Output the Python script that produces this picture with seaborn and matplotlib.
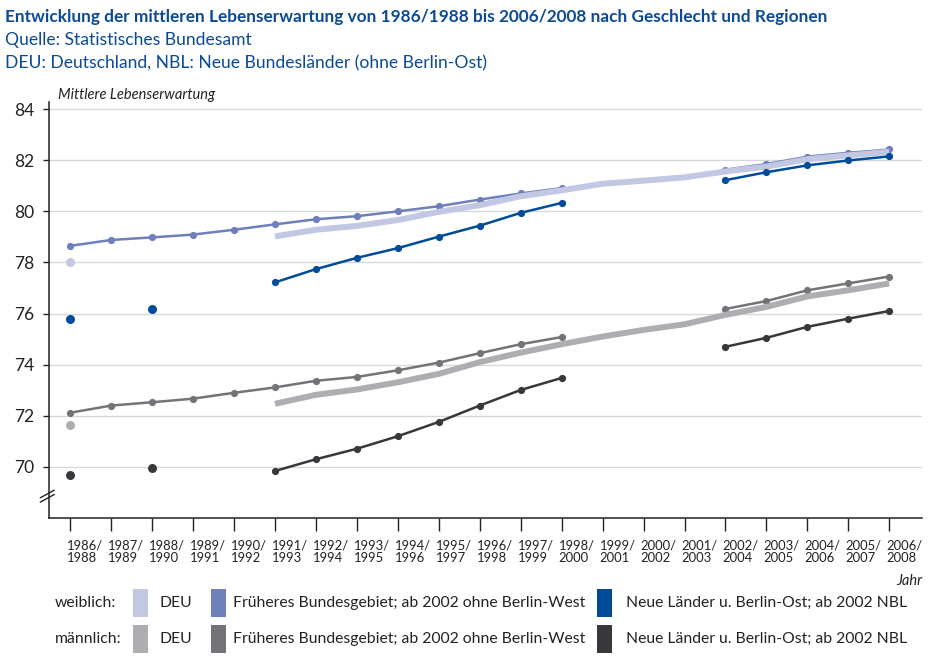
import numpy as np
import pandas as pd
import matplotlib
matplotlib.use("Agg")
import matplotlib.pyplot as plt
import matplotlib.transforms as mtransforms
from matplotlib.patches import Rectangle
import seaborn as sns

# Data
periods = ["1986/\n1988", "1987/\n1989", "1988/\n1990", "1989/\n1991", "1990/\n1992",
           "1991/\n1993", "1992/\n1994", "1993/\n1995", "1994/\n1996", "1995/\n1997",
           "1996/\n1998", "1997/\n1999", "1998/\n2000", "1999/\n2001", "2000/\n2002",
           "2001/\n2003", "2002/\n2004", "2003/\n2005", "2004/\n2006", "2005/\n2007",
           "2006/\n2008"]

N = None
deu_w = [78.0, N, N, N, N, 79.02, 79.28, 79.43, 79.66, 79.98, 80.24, 80.59, 80.82,
         81.08, 81.2, 81.33, 81.56, 81.75, 82.04, 82.19, 82.33]
fbg_w = [78.65, 78.88, 78.98, 79.09, 79.28, 79.49, 79.69, 79.81, 80.0, 80.2, 80.46, 80.7, 80.91,
         N, N, N, 81.63, 81.85, 82.14, 82.29, 82.42]
nbl_w = [75.77, N, 76.18, N, N, 77.22, 77.74, 78.18, 78.56, 79.01, 79.44, 79.94, 80.33,
         N, N, N, 81.22, 81.53, 81.8, 81.99, 82.15]
deu_m = [71.62, N, N, N, N, 72.47, 72.82, 73.03, 73.31, 73.64, 74.1, 74.47, 74.8,
         75.1, 75.36, 75.58, 75.95, 76.26, 76.67, 76.91, 77.18]
fbg_m = [72.12, 72.4, 72.53, 72.67, 72.9, 73.11, 73.37, 73.52, 73.78, 74.08, 74.45, 74.8, 75.08,
         N, N, N, 76.18, 76.49, 76.91, 77.18, 77.45]
nbl_m = [69.7, N, 69.97, N, N, 69.84, 70.3, 70.71, 71.2, 71.76, 72.4, 73.01, 73.48,
         N, N, N, 74.7, 75.05, 75.48, 75.8, 76.1]

c_deu_w, c_fbg_w, c_nbl_w = "#c2c7e4", "#6e7fbb", "#004c99"
c_deu_m, c_fbg_m, c_nbl_m = "#aeadb1", "#747378", "#38383c"
blue = "#0b4a94"
ink = "#222222"

sns.set_theme(style="white")
plt.rcParams["font.family"] = ["Lato", "DejaVu Sans"]

fig = plt.figure(figsize=(9.37, 6.64), dpi=100)
ax = fig.add_axes([49 / 937, 1 - 518 / 664, (922 - 49) / 937, (518 - 101.7) / 664])


def segments(values):
    # split a series into contiguous runs (None = gap)
    df = pd.DataFrame({"x": range(len(values)), "y": values}).dropna()
    df["seg"] = (df["x"].diff() != 1).cumsum()
    return [g for _, g in df.groupby("seg")]


def draw(values, color, thick):
    for g in segments(values):
        if len(g) == 1:
            sns.scatterplot(data=g, x="x", y="y", color=color, s=42, linewidth=0,
                            ax=ax, zorder=4)
        elif thick:
            sns.lineplot(data=g, x="x", y="y", color=color, linewidth=4.3,
                         ax=ax, zorder=3, solid_capstyle="butt")
        else:
            sns.lineplot(data=g, x="x", y="y", color=color, linewidth=1.8,
                         marker="o", markersize=5.2, markeredgewidth=0,
                         ax=ax, zorder=3)


draw(fbg_w, c_fbg_w, False)
draw(fbg_m, c_fbg_m, False)
draw(deu_w, c_deu_w, True)
draw(deu_m, c_deu_m, True)
draw(nbl_w, c_nbl_w, False)
draw(nbl_m, c_nbl_m, False)

ax.set_xlim(-0.52, 20.8)
ax.set_ylim(68, 84.29)
ax.set_yticks(range(70, 85, 2))
ax.set_yticklabels([str(v) for v in range(70, 85, 2)], fontsize=12.5, color=ink)
ax.set_xticks(range(len(periods)))
ax.set_xticklabels([""] * len(periods))
ax.set_xlabel("")
ax.set_ylabel("")

# period labels start at their tick, slightly left of it
lt = mtransforms.blended_transform_factory(ax.transData, ax.transAxes) + \
    mtransforms.ScaledTranslation(-3 / 100, -21 / 100, fig.dpi_scale_trans)
for i, p in enumerate(periods):
    ax.text(i, 0, p, transform=lt, fontsize=9.4, ha="left", va="top", color=ink,
            linespacing=1.15)

ax.grid(axis="y", color="#d9d9d9", linewidth=1)
ax.grid(axis="x", visible=False)
ax.set_axisbelow(True)
for s in ["top", "right"]:
    ax.spines[s].set_visible(False)
for s in ["left", "bottom"]:
    ax.spines[s].set_color(ink)
    ax.spines[s].set_linewidth(1.1)
ax.tick_params(axis="x", direction="out", length=9.5, width=1, color=ink, pad=5.5, bottom=True)
ax.tick_params(axis="y", direction="out", length=4.5, width=1, color=ink, pad=6, left=True)

# axis break marks
bt = mtransforms.blended_transform_factory(ax.transAxes, ax.transData)
for dy in (0.0, 0.17):
    ax.plot([-0.010, 0.006], [68.62 + dy, 68.92 + dy], transform=bt, color=ink,
            linewidth=1.0, clip_on=False)

# titles
fig.text(5 / 937, 1 - 17 / 664, "Entwicklung der mittleren Lebenserwartung von 1986/1988 bis 2006/2008 "
         "nach Geschlecht und Regionen", fontsize=12.45, fontweight="bold", color=blue, va="center")
fig.text(5 / 937, 1 - 40 / 664, "Quelle: Statistisches Bundesamt", fontsize=12.6, color=blue, va="center")
fig.text(5 / 937, 1 - 63 / 664, "DEU: Deutschland, NBL: Neue Bundesländer (ohne Berlin-Ost)",
         fontsize=12.6, color=blue, va="center")
fig.text(58 / 937, 1 - 95 / 664, "Mittlere Lebenserwartung", fontsize=10.5, style="italic",
         color=ink, va="center")
fig.text(922 / 937, 1 - 581 / 664, "Jahr", fontsize=10.5, style="italic", color=ink,
         va="center", ha="right")

# legend
rows = [("weiblich:", 603, [c_deu_w, c_fbg_w, c_nbl_w]),
        ("männlich:", 639, [c_deu_m, c_fbg_m, c_nbl_m])]
labels = ["DEU", "Früheres Bundesgebiet; ab 2002 ohne Berlin-West",
          "Neue Länder u. Berlin-Ost; ab 2002 NBL"]
patch_x = [133, 211, 597]
text_x = [160, 233, 626]
for name, yc, cols in rows:
    fig.text(55 / 937, 1 - yc / 664, name, fontsize=11.3, color=ink, va="center")
    for px_, tx, col, lab in zip(patch_x, text_x, cols, labels):
        fig.patches.append(Rectangle((px_ / 937, 1 - (yc + 14) / 664), 15 / 937, 28 / 664,
                                     transform=fig.transFigure, color=col, linewidth=0))
        fig.text(tx / 937, 1 - yc / 664, lab, fontsize=11.3, color=ink, va="center")

fig.savefig("out.png", dpi=100)
